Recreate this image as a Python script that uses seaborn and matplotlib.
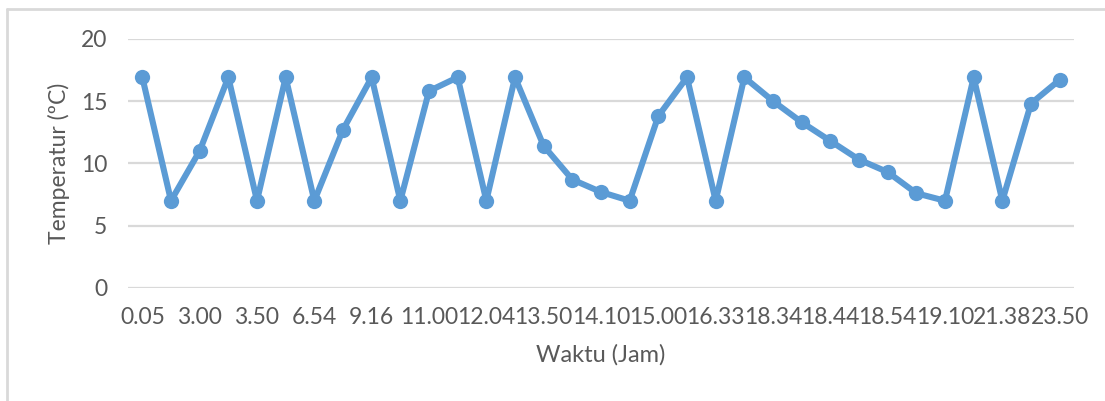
import numpy as np
import pandas as pd
import matplotlib
matplotlib.use("Agg")
import matplotlib.pyplot as plt
import seaborn as sns
from matplotlib.lines import Line2D

# Temperature readings (33 points, only every other time label is shown on the axis)
temperatur = [16.9, 7.0, 11.0, 16.9, 7.0, 16.9, 7.0, 12.7, 16.9, 7.0, 15.8,
              16.9, 7.0, 16.9, 11.4, 8.7, 7.7, 7.0, 13.8, 16.9, 7.0, 16.9,
              15.0, 13.3, 11.8, 10.3, 9.3, 7.6, 7.0, 16.9, 7.0, 14.8, 16.7]
waktu_labels = ["0.05", "3.00", "3.50", "6.54", "9.16", "11.00", "12.04", "13.50",
                "14.10", "15.00", "16.33", "18.34", "18.44", "18.54", "19.10",
                "21.38", "23.50"]
y_ticks = [0, 5, 10, 15, 20]

df = pd.DataFrame({"idx": np.arange(len(temperatur)), "temp": temperatur})

sns.set_style("white")
plt.rcParams["font.family"] = ["Lato", "DejaVu Sans"]
text_col = "#595959"
blue = "#5B9BD5"

fig = plt.figure(figsize=(11.05, 4.01), dpi=100)
ax = fig.add_axes([128 / 1105, 113 / 401, (1074 - 128) / 1105, (288 - 38.7) / 401])

sns.lineplot(data=df, x="idx", y="temp", ax=ax, color=blue, linewidth=4.4,
             marker="o", markersize=11, markeredgewidth=0)

ax.set_xlim(-0.5, len(temperatur) - 0.5)
ax.set_ylim(0, 20)
ax.set_yticks(y_ticks)
ax.set_yticklabels([str(v) for v in y_ticks])
ax.set_xticks(np.arange(0, len(temperatur), 2))
ax.set_xticklabels(waktu_labels)
ax.yaxis.grid(True, color="#D9D9D9", linewidth=1.6)
ax.set_axisbelow(True)
for s in ax.spines.values():
    s.set_visible(False)
ax.tick_params(axis="both", length=0, labelsize=16.5, labelcolor=text_col)
ax.tick_params(axis="x", pad=14)
ax.tick_params(axis="y", pad=15)

ax.set_xlabel("Waktu (Jam)", fontsize=17, color=text_col, labelpad=11)
ax.set_ylabel("Temperatur (ºC)", fontsize=16.5, color=text_col, labelpad=8)

# light chart border (top and left edges visible in the reference)
fig.add_artist(Line2D([7 / 1105, 7 / 1105], [0, 1 - 9 / 401], transform=fig.transFigure,
                      color="#D9D9D9", linewidth=2))
fig.add_artist(Line2D([7 / 1105, 1], [1 - 9 / 401, 1 - 9 / 401], transform=fig.transFigure,
                      color="#D9D9D9", linewidth=2))

fig.savefig("out.png", dpi=100)
